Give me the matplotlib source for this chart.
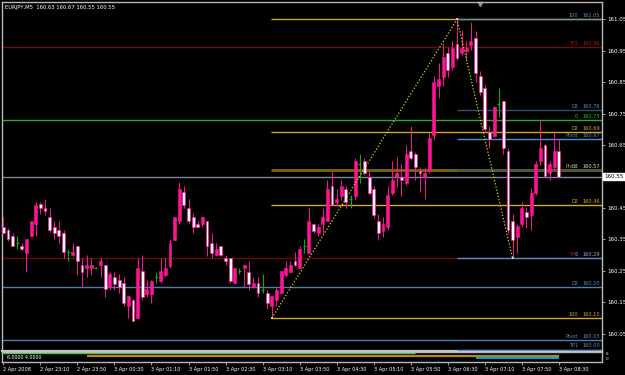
import numpy as np
import matplotlib
matplotlib.use("Agg")
from matplotlib import pyplot as plt
from matplotlib import transforms

# EURJPY M5 bars, 2 Apr 2008 22:30 .. 3 Apr 2008 08:30
opens = [160.39, 160.38, 160.36, 160.34, 160.33, 160.308, 160.36, 160.40, 160.462, 160.449,
         160.42, 160.39, 160.38, 160.372, 160.31, 160.30, 160.329, 160.269, 160.258, 160.258,
         160.26, 160.27, 160.27, 160.20, 160.23, 160.22, 160.21, 160.139, 160.158, 160.10,
         160.25, 160.177, 160.177, 160.23, 160.219, 160.237, 160.264, 160.348, 160.409, 160.50,
         160.449, 160.42, 160.40, 160.399, 160.409, 160.34, 160.30, 160.329, 160.29, 160.29,
         160.211, 160.25, 160.258, 160.248, 160.198, 160.211, 160.189, 160.179, 160.139, 160.158,
         160.179, 160.237, 160.248, 160.28, 160.26, 160.33, 160.308, 160.399, 160.369, 160.399,
         160.408, 160.52, 160.47, 160.488, 160.51, 160.478, 160.488, 160.59, 160.60, 160.549,
         160.51, 160.408, 160.378, 160.388, 160.498, 160.549, 160.549, 160.53, 160.631, 160.621,
         160.568, 160.549, 160.568, 160.682, 160.839, 160.867, 160.941, 160.899, 160.97, 160.941,
         160.949, 160.968, 160.991, 160.87, 160.83, 160.69, 160.68, 160.78, 160.79, 160.632,
         160.41, 160.359, 160.40, 160.438, 160.428, 160.499, 160.60, 160.65, 160.56, 160.58,
         160.63]
highs = [160.42, 160.385, 160.37, 160.36, 160.34, 160.351, 160.41, 160.47, 160.47, 160.478,
         160.449, 160.407, 160.407, 160.38, 160.319, 160.338, 160.33, 160.29, 160.30, 160.29,
         160.262, 160.29, 160.27, 160.248, 160.248, 160.24, 160.23, 160.17, 160.158, 160.29,
         160.30, 160.22, 160.221, 160.248, 160.29, 160.29, 160.351, 160.42, 160.531, 160.52,
         160.478, 160.433, 160.409, 160.42, 160.409, 160.37, 160.338, 160.33, 160.301, 160.29,
         160.26, 160.26, 160.269, 160.28, 160.23, 160.23, 160.24, 160.189, 160.17, 160.20,
         160.25, 160.28, 160.28, 160.31, 160.33, 160.35, 160.451, 160.40, 160.40, 160.451,
         160.539, 160.568, 160.51, 160.539, 160.52, 160.491, 160.608, 160.621, 160.608, 160.568,
         160.52, 160.431, 160.42, 160.52, 160.60, 160.611, 160.59, 160.65, 160.71, 160.629,
         160.58, 160.579, 160.69, 160.87, 160.91, 160.973, 160.963, 160.98, 161.053, 161.015,
         160.98, 161.04, 161.012, 160.886, 160.84, 160.71, 160.775, 160.83, 160.79, 160.64,
         160.43, 160.40, 160.47, 160.454, 160.512, 160.60, 160.73, 160.652, 160.60, 160.692,
         160.67]
lows = [160.37, 160.345, 160.33, 160.32, 160.317, 160.248, 160.36, 160.36, 160.43, 160.428,
        160.375, 160.351, 160.34, 160.29, 160.28, 160.298, 160.237, 160.20, 160.23, 160.237,
        160.258, 160.23, 160.168, 160.19, 160.19, 160.18, 160.139, 160.10, 160.09, 160.098,
        160.158, 160.168, 160.149, 160.211, 160.211, 160.232, 160.258, 160.348, 160.399, 160.449,
        160.399, 160.37, 160.389, 160.391, 160.298, 160.29, 160.298, 160.298, 160.269, 160.211,
        160.211, 160.239, 160.20, 160.189, 160.195, 160.168, 160.179, 160.128, 160.10, 160.139,
        160.179, 160.232, 160.248, 160.264, 160.26, 160.308, 160.308, 160.37, 160.36, 160.369,
        160.408, 160.459, 160.456, 160.475, 160.449, 160.449, 160.475, 160.53, 160.554, 160.49,
        160.417, 160.348, 160.358, 160.38, 160.491, 160.517, 160.489, 160.523, 160.602, 160.539,
        160.50, 160.478, 160.56, 160.666, 160.80, 160.839, 160.867, 160.888, 160.92, 160.936,
        160.925, 160.952, 160.851, 160.81, 160.69, 160.64, 160.675, 160.74, 160.62, 160.37,
        160.29, 160.308, 160.39, 160.385, 160.38, 160.49, 160.586, 160.55, 160.54, 160.571,
        160.55]
closes = [160.37, 160.35, 160.33, 160.34, 160.32, 160.351, 160.41, 160.46, 160.449, 160.441,
          160.38, 160.37, 160.36, 160.311, 160.31, 160.31, 160.28, 160.248, 160.269, 160.269,
          160.26, 160.283, 160.192, 160.24, 160.208, 160.198, 160.149, 160.17, 160.09, 160.26,
          160.168, 160.192, 160.219, 160.23, 160.25, 160.26, 160.34, 160.42, 160.511, 160.46,
          160.409, 160.391, 160.39, 160.42, 160.329, 160.308, 160.32, 160.30, 160.28, 160.219,
          160.26, 160.25, 160.269, 160.208, 160.211, 160.179, 160.189, 160.149, 160.17, 160.189,
          160.25, 160.26, 160.269, 160.269, 160.319, 160.33, 160.408, 160.378, 160.39, 160.422,
          160.51, 160.459, 160.478, 160.52, 160.47, 160.478, 160.60, 160.59, 160.56, 160.498,
          160.427, 160.369, 160.399, 160.491, 160.539, 160.56, 160.539, 160.621, 160.608, 160.579,
          160.56, 160.562, 160.671, 160.851, 160.86, 160.931, 160.888, 160.959, 160.928, 160.959,
          160.959, 160.98, 160.878, 160.82, 160.70, 160.67, 160.77, 160.78, 160.64, 160.38,
          160.348, 160.393, 160.45, 160.42, 160.499, 160.59, 160.64, 160.552, 160.59, 160.63,
          160.55]

time_labels = ["2 Apr 2008", "2 Apr 23:10", "2 Apr 23:50", "3 Apr 00:30", "3 Apr 01:10",
               "3 Apr 01:50", "3 Apr 02:30", "3 Apr 03:10", "3 Apr 03:50", "3 Apr 04:30",
               "3 Apr 05:10", "3 Apr 05:50", "3 Apr 06:30", "3 Apr 07:10", "3 Apr 07:50",
               "3 Apr 08:30"]
bars_per_label = 8

price_ticks = [161.05, 160.95, 160.85, 160.75, 160.65, 160.45, 160.35, 160.25, 160.15, 160.05]
bid = 160.55

# horizontal levels across the whole chart
full_prices = [160.96, 160.73, 160.29, 160.20, 160.03]
full_names = ["TP2", "0", "TP1", "D2", "Pivot"]

# fibo drawn from the 03:20 low
fibo1_start = 58
fibo1_prices = [161.05, 160.69, 160.57, 160.46, 160.10]
fibo1_names = ["0", "D2", "Pivot", "D2", "100"]

# fibo drawn from the 06:40 high
fibo2_start = 98
fibo2_prices = [161.05, 160.76, 160.67, 160.57, 160.29, 160.00]
fibo2_names = ["100", "D2", "Pivot", "D2", "0", "TP1"]

# zigzag points (bar, price)
zigzag_bars = [58, 98, 110]
zigzag_prices = [160.10, 161.05, 160.29]

# indicator window lines (start bar, end bar, value)
sub_starts = [0, 18, 102]
sub_ends = [89, 120, 120]
sub_values = [4.9, 3.6, 2.4]

PINK = "#FF1493"
GREEN = "#00B400"
FRAME = "#B8B8B8"

full_colors = ["#700A0A", "#2AAA2A", "#700A0A", "#4A7FB0", "#4A7FB0"]
full_text = ["#B01818", "#22C022", "#B01818", "#5B8FC8", "#5B8FC8"]
fibo1_colors = ["#D2AA1E", "#D2AA1E", "#7A6A00", "#D2AA1E", "#D2AA1E"]
fibo1_widths = [1.0, 1.0, 2.0, 1.0, 1.0]
fibo2_colors = ["#6E8CA8", "#34506C", "#4F8FD0", "#34506C", "#4F8FD0", "#4F8FD0"]
sub_colors = ["#3CC83C", "#B8860B", "#00BFFF"]
sub_widths = [1.0, 1.6, 1.2]


def draw_candles(ax):
    o, h, l, c = (np.array(v) for v in (opens, highs, lows, closes))
    x = np.arange(len(o))
    up = c > o
    down = c < o
    flat = c == o

    ax.vlines(x[~flat], l[~flat], h[~flat], color=PINK, lw=0.7, zorder=4)
    bottom = np.minimum(o, c)
    height = np.maximum(np.abs(c - o), 0.004)
    ax.bar(x[up], height[up], bottom=bottom[up], width=0.62, color=PINK,
           edgecolor=PINK, lw=0.4, zorder=5)
    ax.bar(x[down], height[down], bottom=bottom[down], width=0.62, color="white",
           edgecolor=PINK, lw=0.5, zorder=5)

    # doji in green
    ax.vlines(x[flat], l[flat], h[flat], color=GREEN, lw=0.8, zorder=4)
    ax.hlines(o[flat], x[flat] - 0.32, x[flat] + 0.32, color=GREEN, lw=0.9, zorder=5)


def draw_levels(ax):
    n = len(opens)
    right = n + 20
    trans = transforms.blended_transform_factory(ax.transAxes, ax.transData)

    def label(price, name, color):
        ax.annotate(name, xy=(0.960, price), xycoords=trans, xytext=(0, 0.8),
                    textcoords="offset points", ha="right", va="bottom",
                    fontsize=3.6, color=color, zorder=6)
        ax.annotate(f"{price:.2f}", xy=(0.9967, price), xycoords=trans, xytext=(0, 0.8),
                    textcoords="offset points", ha="right", va="bottom",
                    fontsize=3.6, color=color, zorder=6)

    for p, name, col, tcol in zip(full_prices, full_names, full_colors, full_text):
        ax.hlines(p, -5, right, color=col, lw=1.0, zorder=2)
        label(p, name, tcol)

    for p, name, col, w in zip(fibo1_prices, fibo1_names, fibo1_colors, fibo1_widths):
        ax.hlines(p, fibo1_start - 0.2, right, color=col, lw=w, zorder=2)
        if name != "0":
            label(p, name, "#D2AA1E")

    for p, name, col in zip(fibo2_prices, fibo2_names, fibo2_colors):
        ax.hlines(p, fibo2_start, right, color=col, lw=1.0, zorder=3)
        label(p, name, "#5B8FC8")

    # bid line
    ax.hlines(bid, -5, right, color="#7A8899", lw=1.0, zorder=2)

    # zigzag
    ax.plot(zigzag_bars, zigzag_prices, color="#D8D800", lw=0.9,
            linestyle=(0, (1, 1.6)), zorder=6)
    ax.scatter(zigzag_bars, zigzag_prices, s=3, marker="s", color="#C8C8C8",
               zorder=7, linewidths=0)


def main():
    fig = plt.figure(figsize=(6.25, 3.75), dpi=100, facecolor="black")

    ax = fig.add_axes([1.7 / 625, 1 - 350.5 / 375, 600.3 / 625, 348.5 / 375], facecolor="black")
    sub = fig.add_axes([1.7 / 625, 1 - 361.5 / 375, 600.3 / 625, 10 / 375], facecolor="black",
                       sharex=ax)

    draw_candles(ax)
    draw_levels(ax)

    ax.set_xlim(-0.35, 129.31)
    ax.set_ylim(159.997, 161.1046)

    for name, sp in ax.spines.items():
        sp.set_color(FRAME)
        sp.set_linewidth(1.0)
    ax.spines["bottom"].set_linewidth(1.6)
    ax.spines["bottom"].set_color("#C8C8C8")

    ax.yaxis.tick_right()
    ax.set_yticks(price_ticks)
    ax.set_yticklabels([f"{p:.2f}" for p in price_ticks])
    ax.tick_params(axis="y", colors=FRAME, labelcolor="white", labelsize=4,
                   length=2, width=0.6, pad=1.5)
    ax.tick_params(axis="x", bottom=False, labelbottom=False)

    # current price box on the scale
    trans = transforms.blended_transform_factory(ax.transAxes, ax.transData)
    ax.text(1.004, bid, f"{bid:.2f}", transform=trans, ha="left", va="center",
            fontsize=4, color="black",
            bbox=dict(boxstyle="square,pad=0.25", fc="white", ec="white"), zorder=8)

    # chart shift marker
    ax.plot([0.796], [0.994], marker="v", ms=3, color="#909090",
            transform=ax.transAxes, clip_on=False)

    # indicator window
    for s, e, v, col, w in zip(sub_starts, sub_ends, sub_values, sub_colors, sub_widths):
        sub.hlines(v, s, e, color=col, lw=w)
    sub.set_ylim(0, 6)
    sub.set_yticks([])
    for sp in sub.spines.values():
        sp.set_color(FRAME)
        sp.set_linewidth(1.0)
    sub.text(0.009, 0.15, "6.0000 4.0000", transform=sub.transAxes, fontsize=3.4,
             color="white", va="bottom", ha="left")
    sub.text(1.006, 0.72, "6", transform=sub.transAxes, fontsize=3, color="white",
             va="center", ha="left")
    sub.text(1.006, 0.25, "0", transform=sub.transAxes, fontsize=3, color="white",
             va="center", ha="left")

    ticks = np.arange(len(time_labels)) * bars_per_label
    sub.set_xticks(ticks)
    sub.set_xticklabels(time_labels)
    sub.tick_params(axis="x", colors=FRAME, labelcolor="white", labelsize=3.6,
                    length=2.5, width=0.6, pad=1.5)
    for t in sub.get_xticklabels():
        t.set_horizontalalignment("left")

    fig.text(5 / 625, 1 - 7 / 375, "EURJPY,M5  160.63 160.67 160.55 160.55",
             fontsize=3.8, color="white", va="center", ha="left")

    fig.savefig("out.png", dpi=100, facecolor="black")


if __name__ == "__main__":
    main()
